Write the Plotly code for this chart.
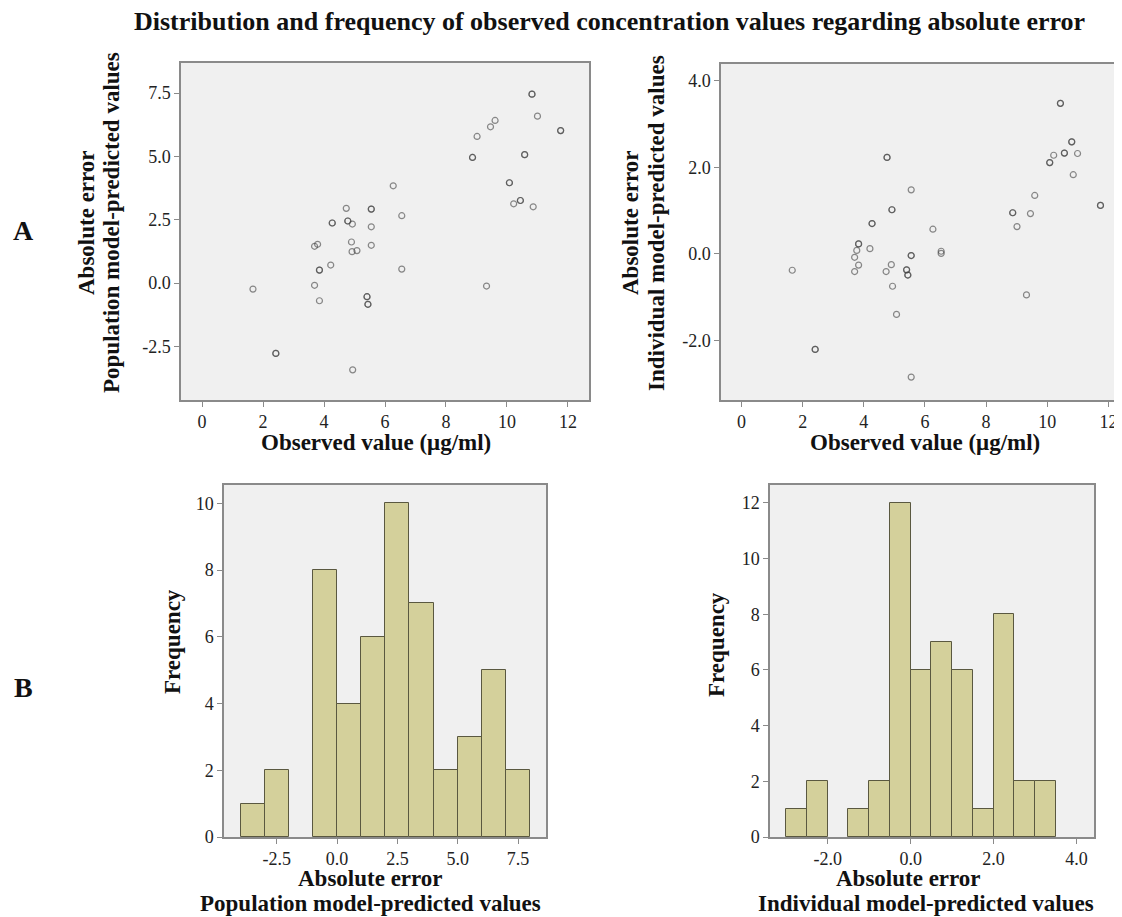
import plotly.graph_objects as go

# ---------------- data ----------------
# Panel A left: observed value vs absolute error (population model)
pop_obs = [1.67, 2.42, 2.42, 3.69, 3.79, 3.85, 3.85, 3.69, 3.85, 4.22, 4.27, 4.27,
           4.73, 4.78, 4.78, 4.93, 4.90, 4.92, 5.08, 4.94, 5.55, 5.55, 5.55, 5.55,
           5.41, 5.41, 5.44, 5.44, 6.27, 6.55, 6.55, 8.87, 8.87, 9.02, 9.46, 9.61,
           9.33, 10.08, 10.08, 10.22, 10.44, 10.44, 10.58, 10.58, 10.82, 10.82,
           10.86, 11.00, 11.76, 11.76]
pop_err = [-0.24, -2.78, -2.78, 1.45, 1.53, 0.51, 0.51, -0.09, -0.70, 0.71, 2.37, 2.37,
           2.95, 2.45, 2.45, 2.33, 1.62, 1.24, 1.28, -3.43, 2.92, 2.92, 2.22, 1.49,
           -0.54, -0.54, -0.84, -0.84, 3.84, 2.66, 0.55, 4.96, 4.96, 5.79, 6.17, 6.42,
           -0.12, 3.96, 3.96, 3.13, 3.26, 3.26, 5.07, 5.07, 7.46, 7.46,
           3.01, 6.59, 6.02, 6.02]

# Panel A right: observed value vs absolute error (individual model)
ind_obs = [1.66, 2.41, 2.41, 3.70, 3.77, 3.83, 3.83, 3.70, 3.83, 4.20, 4.27, 4.27,
           4.76, 4.76, 4.73, 4.90, 4.92, 4.92, 4.94, 5.07, 5.40, 5.40, 5.44, 5.44,
           5.55, 5.55, 5.55, 5.55, 6.26, 6.53, 6.53, 8.87, 8.87, 9.01, 9.32, 9.45,
           9.59, 10.08, 10.08, 10.21, 10.43, 10.43, 10.56, 10.56, 10.80, 10.80,
           10.85, 10.99, 11.74, 11.74]
ind_err = [-0.38, -2.21, -2.21, -0.08, 0.08, 0.23, 0.23, -0.41, -0.26, 0.12, 0.70, 0.70,
           2.23, 2.23, -0.41, -0.25, 1.02, 1.02, -0.75, -1.40, -0.37, -0.37, -0.49, -0.49,
           1.48, -0.04, -0.04, -2.85, 0.57, 0.06, 0.01, 0.95, 0.95, 0.63, -0.95, 0.93,
           1.35, 2.11, 2.11, 2.28, 3.48, 3.48, 2.33, 2.33, 2.59, 2.59,
           1.83, 2.32, 1.12, 1.12]

x_ticks_obs = [0, 2, 4, 6, 8, 10, 12]
x_ticklabels_obs = ["0", "2", "4", "6", "8", "10", "12"]
pop_err_ticks = [-2.5, 0.0, 2.5, 5.0, 7.5]
pop_err_labels = ["-2.5", "0.0", "2.5", "5.0", "7.5"]
ind_err_ticks = [-2.0, 0.0, 2.0, 4.0]
ind_err_labels = ["-2.0", "0.0", "2.0", "4.0"]
pop_freq_ticks = [0, 2, 4, 6, 8, 10]
pop_freq_labels = ["0", "2", "4", "6", "8", "10"]
ind_freq_ticks = [0, 2, 4, 6, 8, 10, 12]
ind_freq_labels = ["0", "2", "4", "6", "8", "10", "12"]

title_text = "Distribution and frequency of observed concentration values regarding absolute error"
obs_title = "Observed value (μg/ml)"
err_title = "Absolute error"
pop_sub = "Population model-predicted values"
ind_sub = "Individual model-predicted values"
freq_title = "Frequency"

# ---------------- style ----------------
W, H = 1122, 917
SERIF = "Liberation Serif"
FRAME = "#8a8a8a"
BG = "#f0f0f0"
BAR_FILL = "#d4d09b"
BAR_LINE = "#5a5840"
MARK = "rgba(70,70,70,0.62)"
SHIFT = 8  # empirical offset between requested and rendered annotation centre
TICKFONT = dict(family=SERIF, size=18, color="#222")


def px_dom_x(a, b):
    return [a / W, b / W]


def px_dom_y(top, bottom):
    return [1 - bottom / H, 1 - top / H]


fig = go.Figure()

fig.add_trace(go.Scatter(x=pop_obs, y=pop_err, mode="markers", xaxis="x", yaxis="y",
                         marker=dict(symbol="circle-open", size=6, color=MARK, line=dict(width=1.2)),
                         showlegend=False))
fig.add_trace(go.Scatter(x=ind_obs, y=ind_err, mode="markers", xaxis="x2", yaxis="y2",
                         marker=dict(symbol="circle-open", size=6, color=MARK, line=dict(width=1.2)),
                         showlegend=False))
fig.add_trace(go.Histogram(x=pop_err, xaxis="x3", yaxis="y3",
                           xbins=dict(start=-4, end=8, size=1), autobinx=False,
                           marker=dict(color=BAR_FILL, line=dict(color=BAR_LINE, width=1)),
                           showlegend=False))
fig.add_trace(go.Histogram(x=ind_err, xaxis="x4", yaxis="y4",
                           xbins=dict(start=-3, end=3.5, size=0.5), autobinx=False,
                           marker=dict(color=BAR_FILL, line=dict(color=BAR_LINE, width=1)),
                           showlegend=False))


def ax(domain, rng, tickvals, anchor, ticktext):
    return dict(domain=domain, range=rng, tickmode="array", tickvals=tickvals, ticktext=ticktext,
                anchor=anchor, showgrid=False, zeroline=False, showline=True, linecolor=FRAME,
                linewidth=1.5, mirror=True, ticks="outside", ticklen=5, tickcolor=FRAME,
                tickwidth=1, tickfont=TICKFONT, automargin=False, fixedrange=True)


def label(text, x, y, size=23, angle=0):
    return dict(text="<b>" + text + "</b>", x=(x - SHIFT) / W, y=1 - (y - SHIFT) / H,
                xref="paper", yref="paper", showarrow=False,
                font=dict(family=SERIF, size=size, color="#111"),
                xanchor="center", yanchor="middle", textangle=angle)


layout = dict(
    width=W, height=H, paper_bgcolor="white", plot_bgcolor=BG,
    font=dict(family=SERIF, size=18, color="#222"),
    margin=dict(l=0, r=0, t=0, b=0), bargap=0,
    xaxis=ax(px_dom_x(173, 581), [-0.69, 12.69], x_ticks_obs, "y", x_ticklabels_obs),
    yaxis=ax(px_dom_y(55, 392), [-4.62, 8.69], pop_err_ticks, "x", pop_err_labels),
    xaxis2=ax(px_dom_x(713, 1120), [-0.67, 12.64], x_ticks_obs, "y2", x_ticklabels_obs),
    yaxis2=ax(px_dom_y(56, 392), [-3.38, 4.39], ind_err_ticks, "x2", ind_err_labels),
    xaxis3=ax(px_dom_x(216, 538), [-4.69, 8.66], pop_err_ticks, "y3", pop_err_labels),
    yaxis3=ax(px_dom_y(477, 829), [0, 10.55], pop_freq_ticks, "x3", pop_freq_labels),
    xaxis4=ax(px_dom_x(762, 1086), [-3.39, 4.42], ind_err_ticks, "y4", ind_err_labels),
    yaxis4=ax(px_dom_y(477, 829), [0, 12.64], ind_freq_ticks, "x4", ind_freq_labels),
    annotations=[
        label(title_text, 609, 21, size=26),
        label("A", 24, 231, size=28),
        label("B", 24, 687, size=28),
        # top-left scatter titles
        label(obs_title, 376, 442),
        label(err_title, 87, 223, angle=-90),
        label(pop_sub, 112, 223, angle=-90),
        # top-right scatter titles
        label(obs_title, 925, 442),
        label(err_title, 631, 223, angle=-90),
        label(ind_sub, 657, 223, angle=-90),
        # bottom-left histogram titles
        label(err_title, 370, 878),
        label(pop_sub, 370, 903),
        label(freq_title, 172, 642, angle=-90),
        # bottom-right histogram titles
        label(err_title, 908, 878),
        label(ind_sub, 926, 903),
        label(freq_title, 716, 645, angle=-90),
    ],
)
fig.update_layout(**layout)

fig.write_html("out.html")
